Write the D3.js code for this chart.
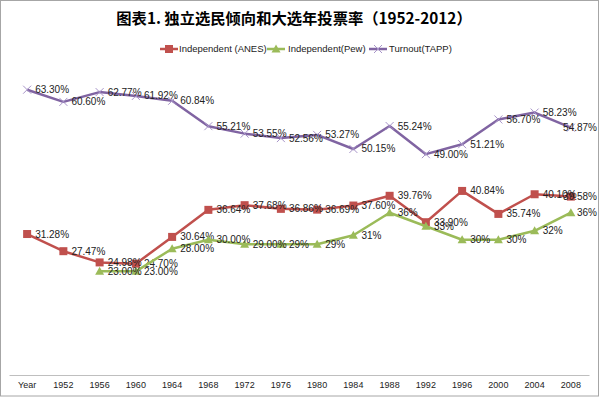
<!DOCTYPE html>
<html>
<head>
<meta charset="utf-8">
<script src="https://cdn.jsdelivr.net/npm/d3@7"></script>
<style>
  body { margin: 0; background: #fff; }
  svg { display: block; font-family: "Liberation Sans", "DejaVu Sans", sans-serif; }
</style>
</head>
<body>
<div id="chart"></div>
<script>
// Data
const categories = ['Year', '1952', '1956', '1960', '1964', '1968', '1972', '1976',
    '1980', '1984', '1988', '1992', '1996', '2000', '2004', '2008'];
const anes = [31.28, 27.47, 24.98, 24.70, 30.64, 36.64, 37.68, 36.86, 36.69, 37.60,
    39.76, 33.90, 40.84, 35.74, 40.10, 39.58];
const pew = [null, null, 23.00, 23.00, 28.00, 30.00, 29.00, 29, 29, 31, 36, 33, 30, 30, 32, 36];
const pewLabels = [null, null, '23.00%', '23.00%', '28.00%', '30.00%', '29.00%', '29%', '29%',
    '31%', '36%', '33%', '30%', '30%', '32%', '36%'];
const turnout = [63.30, 60.60, 62.77, 61.92, 60.84, 55.21, 53.55, 52.56, 53.27, 50.15,
    55.24, 49.00, 51.21, 56.70, 58.23, 54.87];

const W = 600, H = 398;
const labelFont = '"Liberation Sans Narrow", "Liberation Sans", sans-serif';

const svg = d3.select('#chart')
    .append('svg')
    .attr('width', W)
    .attr('height', H);

// border
svg.append('rect')
    .attr('x', 0.5).attr('y', 0.5)
    .attr('width', W - 2).attr('height', H - 2.5)
    .attr('fill', '#fff')
    .attr('stroke', '#a6a6a6');

// Scales
const xScale = d3.scaleBand()
    .domain(categories)
    .range([9, 589])
    .padding(0);
const cx = i => xScale(categories[i]) + xScale.bandwidth() / 2;

const yScale = d3.scaleLinear()
    .domain([0, 70])
    .range([375, 59.5]);

// Title
svg.append('text')
    .attr('x', 294)
    .attr('y', 24)
    .attr('text-anchor', 'middle')
    .style('font-family', '"Noto Sans CJK SC", sans-serif')
    .style('font-weight', 'bold')
    .style('font-size', '15.3px')
    .style('fill', '#000')
    .text('图表1. 独立选民倾向和大选年投票率（1952-2012）');

// x-axis
const xAxis = d3.axisBottom(xScale).tickSize(0).tickPadding(7);
const gx = svg.append('g')
    .attr('transform', `translate(0,${yScale(0)})`)
    .call(xAxis);
gx.select('.domain').attr('stroke', '#bfbfbf').attr('stroke-width', 1.2);
gx.selectAll('text')
    .style('font-size', '9px')
    .style('fill', '#222')
    .style('font-family', labelFont);

const series = [
    { name: 'Independent (ANES)', values: anes, color: '#C0504D', marker: 'square',
      labels: anes.map(v => v.toFixed(2) + '%') },
    { name: 'Independent(Pew)', values: pew, color: '#9BBB59', marker: 'triangle',
      labels: pewLabels },
    { name: 'Turnout(TAPP)', values: turnout, color: '#8064A2', marker: 'cross',
      labels: turnout.map(v => v.toFixed(2) + '%') }
];

function drawMarker(g, type, color, x, y) {
    if (type === 'square') {
        g.append('rect')
            .attr('x', x - 4).attr('y', y - 4)
            .attr('width', 8).attr('height', 8)
            .attr('fill', color);
    } else if (type === 'triangle') {
        g.append('path')
            .attr('d', `M${x},${y - 4.5}L${x + 4.5},${y + 3.5}L${x - 4.5},${y + 3.5}Z`)
            .attr('fill', color);
    } else {
        g.append('path')
            .attr('d', `M${x - 4},${y - 4}L${x + 4},${y + 4}M${x - 4},${y + 4}L${x + 4},${y - 4}`)
            .attr('stroke', '#a895c9')
            .attr('stroke-width', 1)
            .attr('fill', 'none');
    }
}

const line = d3.line()
    .defined(d => d.v != null)
    .x(d => cx(d.i))
    .y(d => yScale(d.v));

series.forEach(s => {
    const pts = s.values.map((v, i) => ({ v, i }));
    const g = svg.append('g');
    g.append('path')
        .datum(pts)
        .attr('d', line)
        .attr('fill', 'none')
        .attr('stroke', s.color)
        .attr('stroke-width', 2.5)
        .attr('stroke-linejoin', 'round');
    pts.filter(d => d.v != null).forEach(d => {
        drawMarker(g, s.marker, s.color, cx(d.i), yScale(d.v));
    });
    pts.filter(d => d.v != null).forEach(d => {
        const t = g.append('text')
            .attr('x', cx(d.i) + 8)
            .attr('y', yScale(d.v) + 3.5)
            .style('font-size', '10px')
            .style('font-family', labelFont)
            .style('fill', '#222')
            .text(s.labels[d.i]);
        // keep labels inside the chart border like Excel does
        const w = t.node().getComputedTextLength();
        if (cx(d.i) + 8 + w > 597) t.attr('x', 597 - w);
    });
});

// Legend
const legendItems = [
    { x: 160, textX: 179 },
    { x: 267, textX: 288 },
    { x: 369, textX: 389 }
];
series.forEach((s, k) => {
    const lg = svg.append('g');
    const lx = legendItems[k].x, ly = 49;
    lg.append('line')
        .attr('x1', lx).attr('x2', lx + 18)
        .attr('y1', ly).attr('y2', ly)
        .attr('stroke', s.color)
        .attr('stroke-width', 2.5);
    drawMarker(lg, s.marker, s.color, lx + 9, ly);
    lg.append('text')
        .attr('x', legendItems[k].textX)
        .attr('y', ly + 3)
        .style('font-size', '9.5px')
        .style('font-family', labelFont)
        .style('fill', '#222')
        .text(s.name);
});
</script>
</body>
</html>
